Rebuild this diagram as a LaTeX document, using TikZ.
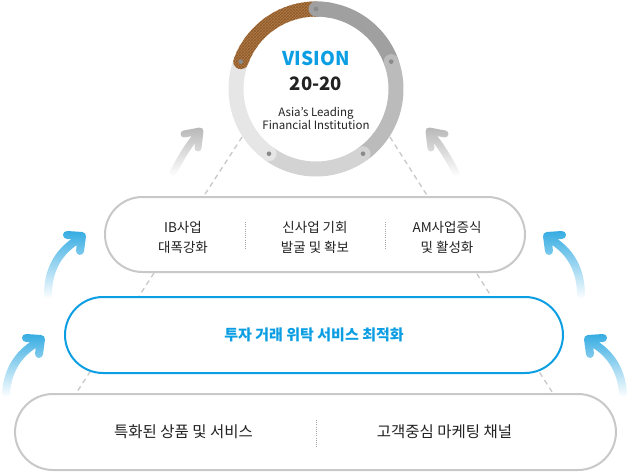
\documentclass[tikz,border=0pt]{standalone}
\usepackage{fontspec}
\setmainfont{Noto Sans CJK KR}
\usetikzlibrary{shapes.misc,patterns,fadings}
\definecolor{ringA}{HTML}{A0A0A0}
\definecolor{ringB}{HTML}{BBBBBB}
\definecolor{ringC}{HTML}{D3D3D3}
\definecolor{ringD}{HTML}{E6E6E6}
\definecolor{brownc}{HTML}{B27B45}
\definecolor{brownd}{HTML}{8E5A2C}
\definecolor{dotc}{HTML}{8A8A8A}
\definecolor{pillgrey}{HTML}{C8C8C8}
\definecolor{mainblue}{HTML}{0C9EE3}
\definecolor{arrowblue}{HTML}{36ACE2}
\definecolor{arrowgrey}{HTML}{B8B8B8}
\definecolor{dashgrey}{HTML}{C8C8C8}
\definecolor{txt}{HTML}{222222}
\tikzfading[name=arrowfade, top color=transparent!0, middle color=transparent!5, bottom color=transparent!100]
\begin{document}
\begin{tikzpicture}[x=1pt,y=1pt,
  seg/.style={line width=15pt, line cap=round},
  pill/.style={rounded rectangle, draw=pillgrey, line width=2pt, fill=white, inner sep=0pt},
  bluepill/.style={rounded rectangle, draw=mainblue, line width=2pt, fill=white, inner sep=0pt},
  sep/.style={draw=gray!70, line width=0.8pt, dash pattern=on 0.8pt off 1.4pt},
  dashline/.style={draw=dashgrey, line width=1.3pt, dash pattern=on 5pt off 4pt},
  bigarrow/.style={line width=8pt, line cap=round, line join=round, draw=arrowblue, path fading=arrowfade},
  greyarrow/.style={line width=7pt, line cap=round, line join=round, draw=arrowgrey, path fading=arrowfade},
  t13/.style={text=txt, align=center, font=\fontsize{13.5}{20.5}\selectfont},
  t15/.style={text=txt, font=\fontsize{15.5}{18}\selectfont},
  dotnode/.style={circle, fill=dotc, minimum size=4.6pt, inner sep=0pt}
]
\useasboundingbox (0,0) rectangle (630,-472);

% ring centre
\coordinate (c) at (316,-89);
\node[circle, minimum size=176pt, inner sep=0pt] (ring) at (c) {};

% dashed guide lines
\coordinate (dl2) at (75,-395);
\coordinate (dr2) at (554,-395);
\draw[dashline] (ring.213) -- (dl2);
\draw[dashline] (ring.-33) -- (dr2);

% grey arrows
\draw[greyarrow] (173,-173) .. controls (181,-157) and (190,-143) .. (198,-134)
  (184,-134) -- (200,-131) -- (198,-148);
\draw[greyarrow] (456,-173) .. controls (448,-157) and (439,-143) .. (431,-134)
  (445,-134) -- (429,-131) -- (431,-148);

% blue arrows
\draw[bigarrow] (48,-295) .. controls (48,-268) and (60,-250) .. (79,-239)
  (67,-235) -- (82,-236) -- (80,-251);
\draw[bigarrow] (6,-393) .. controls (8,-368) and (20,-352) .. (38,-342)
  (26,-338) -- (41,-339) -- (39,-354);
\draw[bigarrow] (581,-295) .. controls (581,-268) and (569,-250) .. (550,-239)
  (562,-235) -- (547,-236) -- (549,-251);
\draw[bigarrow] (623,-393) .. controls (621,-368) and (609,-352) .. (591,-342)
  (603,-338) -- (588,-339) -- (590,-354);

% pills
\node[pill, minimum width=420pt, minimum height=75pt] (midpill) at (315,-234.5) {};
\node[bluepill, minimum width=498pt, minimum height=76pt] (bluep) at (314,-335) {};
\node[pill, minimum width=601pt, minimum height=76pt] (botpill) at (315.5,-432) {};

% middle pill texts
\node[t13] (ib) at (183,-237.5) {IB사업\\대폭강화};
\node[t13] (new) at (315,-237.5) {신사업 기회\\발굴 및 확보};
\node[t13] (am) at (447,-237.5) {AM사업증식\\및 활성화};
\coordinate (s1a) at (245,-222); \coordinate (s1b) at (245,-249);
\coordinate (s2a) at (385,-222); \coordinate (s2b) at (385,-249);
\draw[sep] (s1a) -- (s1b);
\draw[sep] (s2a) -- (s2b);

% blue pill text
\node[text=mainblue, font=\fontsize{15}{17}\selectfont\bfseries] (opt) at (314,-335) {투자 거래 위탁 서비스 최적화};

% bottom pill texts
\node[t15] (prod) at (183.5,-432) {특화된 상품 및 서비스};
\node[t15] (mkt) at (444.5,-432) {고객중심 마케팅 채널};
\coordinate (s3a) at (316,-420); \coordinate (s3b) at (316,-447);
\draw[sep] (s3a) -- (s3b);

% ring segments
\draw[seg, ringA] ([shift={(90:80)}]c) arc[start angle=90, end angle=20, radius=80];
\draw[seg, ringB] ([shift={(20:80)}]c) arc[start angle=20, end angle=-54, radius=80];
\draw[seg, ringC] ([shift={(-54:80)}]c) arc[start angle=-54, end angle=-126, radius=80];
\draw[seg, ringD] ([shift={(-126:80)}]c) arc[start angle=-126, end angle=-200, radius=80];
\path[fill=brownc, postaction={pattern=crosshatch, pattern color=brownd}]
  ([shift={(160:87.5)}]c) arc[start angle=160, end angle=90, radius=87.5]
  arc[start angle=90, end angle=-90, radius=7.5]
  arc[start angle=90, end angle=160, radius=72.5]
  arc[start angle=340, end angle=160, radius=7.5] -- cycle;
\draw[seg, ringA] ([shift={(90:80)}]c) arc[start angle=90, end angle=80, radius=80];
\foreach \a/\n in {90/d1, 20/d2, -54/d3, -126/d4, 160/d5}
  \node[dotnode] (\n) at ([shift={(\a:80)}]c) {};

% ring texts
\node[text=mainblue, font=\fontsize{19}{22}\selectfont\bfseries] (vis) at (316,-58.7) {VISION};
\node[text=txt, font=\fontsize{18.5}{21}\selectfont\bfseries] (yr) at (316,-83.5) {20-20};
\node[text=txt, align=center, font=\fontsize{11.5}{13}\selectfont] (asia) at (316,-118) {Asia’s Leading\\Financial Institution};
\end{tikzpicture}
\end{document}
